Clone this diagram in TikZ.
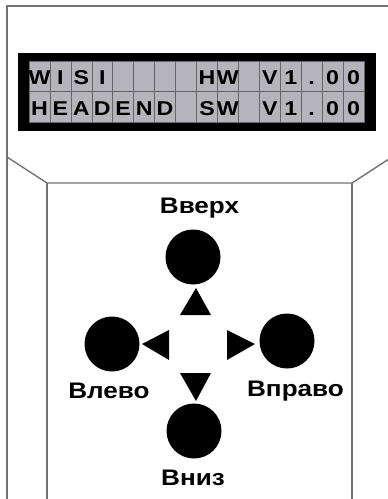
\documentclass[tikz,border=0pt]{standalone}
\usepackage{fontspec}
\setmainfont[FakeStretch=1.16]{Liberation Sans}
\begin{document}
\begin{tikzpicture}[x=1pt,y=-1pt,
  housing/.style={draw=black!55,line width=1.4pt},
  cell/.style={draw=black!60,line width=0.6pt,fill=lcdgray},
  lcdchar/.style={font=\fontsize{20}{21}\selectfont\bfseries,anchor=base,inner sep=0pt},
  btn/.style={circle,fill=black,minimum size=55pt,inner sep=0pt},
  tri/.style={fill=black},
  lbl/.style={font=\fontsize{22.5}{24}\selectfont\bfseries,anchor=base,inner sep=0pt}]
\definecolor{lcdgray}{RGB}{180,180,186}
\useasboundingbox (0,0) rectangle (388,499);
\clip (0,0) rectangle (388,499);
% housing
\draw[housing] (7,520) -- (7,6) -- (400,6);
\draw[housing] (7,157) -- (47,183) -- (352,183) -- (392,157) -- (392,0);
\draw[housing] (47,183) -- (47,510);
\draw[housing] (352,183) -- (352,510);
% LCD
\fill[black] (18,53) rectangle (376,131);
\foreach \i in {0,...,15}{
  \draw[cell] ({29+\i*20.94},61) rectangle ({29+(\i+1)*20.94},91.5);
  \draw[cell] ({29+\i*20.94},91.5) rectangle ({29+(\i+1)*20.94},122);
}
\foreach \c [count=\i from 0] in {W,I,S,I,{},{},{},{},H,W,{},V,1,.,0,0}
  \node[lcdchar] (ra\i) at ({29+(\i+0.5)*20.94},84.5) {\c};
\foreach \c [count=\i from 0] in {H,E,A,D,E,N,D,{},S,W,{},V,1,.,0,0}
  \node[lcdchar] (rb\i) at ({29+(\i+0.5)*20.94},115.5) {\c};
% buttons
\node[btn] (up) at (193,257) {};
\node[btn] (left) at (112,344) {};
\node[btn] (right) at (287,341) {};
\node[btn] (down) at (194,431) {};
% triangles
\fill[tri] (196,288) -- (211,315) -- (180,315) -- cycle;
\fill[tri] (142,344) -- (169,330) -- (169,360) -- cycle;
\fill[tri] (255,344) -- (227,330) -- (227,360) -- cycle;
\fill[tri] (196,401) -- (211,373) -- (180,373) -- cycle;
% labels
\node[lbl] (lup) at (199.5,213) {Вверх};
\node[lbl] (lleft) at (109,398) {Влево};
\node[lbl] (lright) at (295.5,396) {Вправо};
\node[lbl] (ldown) at (193,485) {Вниз};
\end{tikzpicture}
\end{document}
